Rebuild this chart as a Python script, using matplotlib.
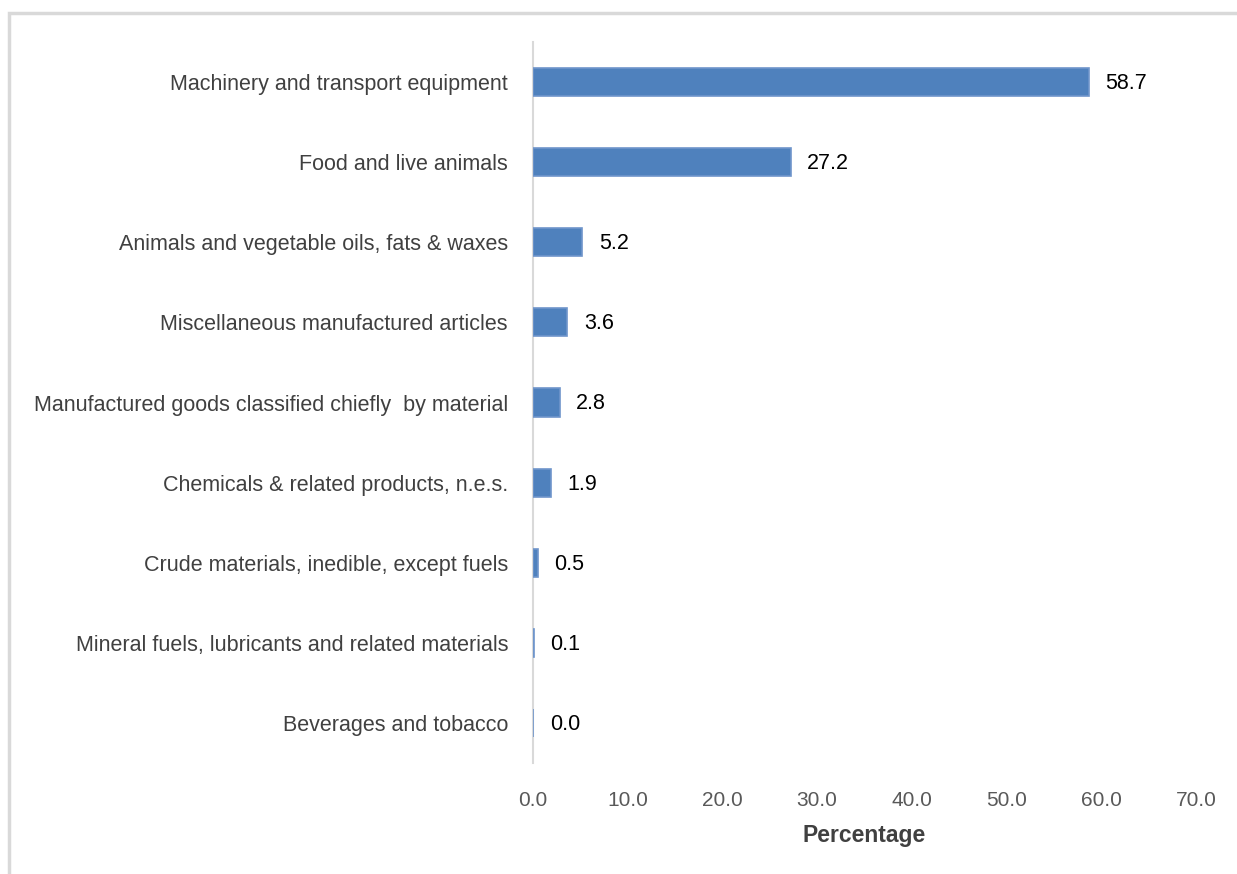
import matplotlib
matplotlib.use("Agg")
import matplotlib.pyplot as plt
from matplotlib.patches import Rectangle

categories = [
    "Machinery and transport equipment",
    "Food and live animals",
    "Animals and vegetable oils, fats & waxes",
    "Miscellaneous manufactured articles",
    "Manufactured goods classified chiefly  by material",
    "Chemicals & related products, n.e.s.",
    "Crude materials, inedible, except fuels",
    "Mineral fuels, lubricants and related materials",
    "Beverages and tobacco",
]
values = [58.7, 27.2, 5.2, 3.6, 2.8, 1.9, 0.5, 0.1, 0.0]
xticks = [0, 10, 20, 30, 40, 50, 60, 70]

plt.rcParams['font.family'] = ['Liberation Sans', 'DejaVu Sans']

fig = plt.figure(figsize=(12.37, 8.74), dpi=100)
# light frame around the chart area
fig.patches.append(Rectangle((9 / 1237, -0.1), 1.2, 1 - 13 / 874 + 0.1,
                             transform=fig.transFigure, fill=False,
                             edgecolor='#d9d9d9', linewidth=2.5))

ax = fig.add_axes([533 / 1237, 1 - 763 / 874, 663 / 1237, 721 / 874])

pos = list(range(len(categories)))[::-1]
bars = ax.barh(pos, values, height=0.35, color='#4f81bd',
               edgecolor='#6f95cb', linewidth=1.2, zorder=3)

for b, v in zip(bars, values):
    ax.annotate(f"{v:.1f}", (v, b.get_y() + b.get_height() / 2),
                xytext=(12, -1), textcoords='offset points',
                va='center', ha='left', fontsize=15.5, color='black')

ax.set_xlim(0, 70)
ax.set_ylim(-0.5, len(categories) - 0.5)
ax.set_xticks(xticks)
ax.set_xticklabels([f"{t:.1f}" for t in xticks], fontsize=15, color='#595959')
ax.set_yticks(pos)
ax.set_yticklabels(categories, fontsize=15.5, color='#404040')
ax.tick_params(axis='both', length=0)
ax.tick_params(axis='x', pad=20)
ax.tick_params(axis='y', pad=18)

for s in ['top', 'right', 'bottom']:
    ax.spines[s].set_visible(False)
ax.spines['left'].set_color('#d9d9d9')
ax.spines['left'].set_linewidth(1.5)
ax.spines['left'].set_zorder(1)

ax.set_xlabel("Percentage", fontsize=16.5, fontweight='bold', color='#404040',
              labelpad=10)

fig.savefig("out.png", dpi=100)
